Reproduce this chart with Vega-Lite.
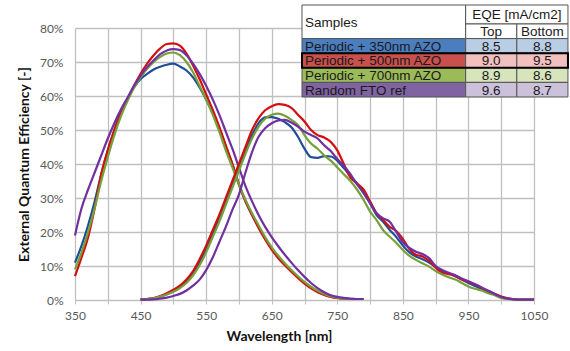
{
  "$schema": "https://vega.github.io/schema/vega-lite/v6.json",
  "width": 459,
  "height": 272,
  "autosize": {"type": "none"},
  "padding": {"left": 75, "top": 28, "right": 36, "bottom": 51},
  "background": "white",
  "config": {
    "view": {"stroke": null},
    "font": "Lato"
  },
  "datasets": {
    "curves": [
      {"cell":"Top","wavelength":350,"p350":11,"p500":7,"p700":9,"fto":19},
      {"cell":"Top","wavelength":360,"p350":16,"p500":12.5,"p700":14,"fto":27},
      {"cell":"Top","wavelength":370,"p350":22,"p500":18.5,"p700":20,"fto":32.5},
      {"cell":"Top","wavelength":380,"p350":29,"p500":27,"p700":27,"fto":37.5},
      {"cell":"Top","wavelength":390,"p350":37,"p500":37,"p700":35,"fto":42.5},
      {"cell":"Top","wavelength":400,"p350":44,"p500":44,"p700":42,"fto":47.5},
      {"cell":"Top","wavelength":410,"p350":50,"p500":50,"p700":48.5,"fto":52},
      {"cell":"Top","wavelength":420,"p350":55,"p500":55,"p700":54,"fto":56},
      {"cell":"Top","wavelength":430,"p350":59,"p500":59,"p700":58.5,"fto":59.5},
      {"cell":"Top","wavelength":440,"p350":62.5,"p500":63,"p700":62.5,"fto":63},
      {"cell":"Top","wavelength":450,"p350":65,"p500":66.5,"p700":65.5,"fto":66},
      {"cell":"Top","wavelength":460,"p350":66.5,"p500":69.5,"p700":68,"fto":68.5},
      {"cell":"Top","wavelength":470,"p350":67.8,"p500":72,"p700":70,"fto":70.5},
      {"cell":"Top","wavelength":480,"p350":68.6,"p500":74,"p700":71.5,"fto":72.3},
      {"cell":"Top","wavelength":490,"p350":69.2,"p500":75.3,"p700":72.5,"fto":73.4},
      {"cell":"Top","wavelength":500,"p350":69.5,"p500":75.5,"p700":72.8,"fto":73.8},
      {"cell":"Top","wavelength":510,"p350":68.7,"p500":74.8,"p700":72,"fto":73.5},
      {"cell":"Top","wavelength":520,"p350":67.5,"p500":72.5,"p700":70,"fto":72},
      {"cell":"Top","wavelength":530,"p350":65.5,"p500":69,"p700":67,"fto":69.5},
      {"cell":"Top","wavelength":540,"p350":62.5,"p500":65,"p700":63,"fto":66.5},
      {"cell":"Top","wavelength":550,"p350":59,"p500":60.5,"p700":59,"fto":63},
      {"cell":"Top","wavelength":560,"p350":55,"p500":56,"p700":54.5,"fto":59},
      {"cell":"Top","wavelength":570,"p350":50.5,"p500":51,"p700":49.5,"fto":54.5},
      {"cell":"Top","wavelength":580,"p350":45,"p500":45.5,"p700":44,"fto":49.5},
      {"cell":"Top","wavelength":590,"p350":40,"p500":40,"p700":39,"fto":44.5},
      {"cell":"Top","wavelength":600,"p350":34,"p500":34,"p700":34,"fto":39},
      {"cell":"Top","wavelength":610,"p350":29,"p500":29,"p700":29.5,"fto":33.5},
      {"cell":"Top","wavelength":620,"p350":25,"p500":25,"p700":25.5,"fto":29},
      {"cell":"Top","wavelength":630,"p350":21.5,"p500":21.2,"p700":22,"fto":25},
      {"cell":"Top","wavelength":640,"p350":18,"p500":17.8,"p700":18.5,"fto":21.5},
      {"cell":"Top","wavelength":650,"p350":15,"p500":14.8,"p700":15.5,"fto":18.5},
      {"cell":"Top","wavelength":660,"p350":12.5,"p500":12.3,"p700":13,"fto":15.8},
      {"cell":"Top","wavelength":670,"p350":10.5,"p500":10.2,"p700":10.8,"fto":13.3},
      {"cell":"Top","wavelength":680,"p350":8.5,"p500":8.3,"p700":8.8,"fto":11},
      {"cell":"Top","wavelength":690,"p350":6.7,"p500":6.5,"p700":7,"fto":8.8},
      {"cell":"Top","wavelength":700,"p350":5,"p500":4.8,"p700":5.3,"fto":6.8},
      {"cell":"Top","wavelength":710,"p350":3.6,"p500":3.4,"p700":3.9,"fto":5},
      {"cell":"Top","wavelength":720,"p350":2.5,"p500":2.3,"p700":2.7,"fto":3.5},
      {"cell":"Top","wavelength":730,"p350":1.6,"p500":1.5,"p700":1.8,"fto":2.3},
      {"cell":"Top","wavelength":740,"p350":1,"p500":0.9,"p700":1.1,"fto":1.4},
      {"cell":"Top","wavelength":750,"p350":0.6,"p500":0.6,"p700":0.7,"fto":0.9},
      {"cell":"Top","wavelength":760,"p350":0.4,"p500":0.4,"p700":0.4,"fto":0.6},
      {"cell":"Top","wavelength":770,"p350":0.3,"p500":0.3,"p700":0.3,"fto":0.4},
      {"cell":"Top","wavelength":780,"p350":0.3,"p500":0.3,"p700":0.3,"fto":0.3},
      {"cell":"Top","wavelength":790,"p350":0.3,"p500":0.3,"p700":0.3,"fto":0.3},
      {"cell":"Bottom","wavelength":450,"p350":0.2,"p500":0.2,"p700":0.2,"fto":0.1},
      {"cell":"Bottom","wavelength":460,"p350":0.3,"p500":0.3,"p700":0.3,"fto":0.1},
      {"cell":"Bottom","wavelength":470,"p350":0.5,"p500":0.6,"p700":0.5,"fto":0.2},
      {"cell":"Bottom","wavelength":480,"p350":1,"p500":1.2,"p700":1,"fto":0.4},
      {"cell":"Bottom","wavelength":490,"p350":1.7,"p500":2,"p700":1.6,"fto":0.7},
      {"cell":"Bottom","wavelength":500,"p350":2.6,"p500":3,"p700":2.4,"fto":1.2},
      {"cell":"Bottom","wavelength":510,"p350":3.8,"p500":4.2,"p700":3.5,"fto":1.8},
      {"cell":"Bottom","wavelength":520,"p350":5.5,"p500":6,"p700":5,"fto":2.8},
      {"cell":"Bottom","wavelength":530,"p350":7.8,"p500":8.5,"p700":7.2,"fto":4.2},
      {"cell":"Bottom","wavelength":540,"p350":11,"p500":12,"p700":10.2,"fto":6},
      {"cell":"Bottom","wavelength":550,"p350":15,"p500":16,"p700":14,"fto":8.8},
      {"cell":"Bottom","wavelength":560,"p350":19.5,"p500":20.5,"p700":18.5,"fto":12.5},
      {"cell":"Bottom","wavelength":570,"p350":24,"p500":25,"p700":23,"fto":17},
      {"cell":"Bottom","wavelength":580,"p350":29,"p500":30,"p700":28,"fto":21.5},
      {"cell":"Bottom","wavelength":590,"p350":34,"p500":35,"p700":33,"fto":26.5},
      {"cell":"Bottom","wavelength":600,"p350":39,"p500":40,"p700":38,"fto":31},
      {"cell":"Bottom","wavelength":610,"p350":44,"p500":45,"p700":43,"fto":37.5},
      {"cell":"Bottom","wavelength":620,"p350":48.5,"p500":50,"p700":47.5,"fto":43.5},
      {"cell":"Bottom","wavelength":630,"p350":52,"p500":53.5,"p700":51,"fto":48},
      {"cell":"Bottom","wavelength":640,"p350":53.7,"p500":55.8,"p700":53.3,"fto":50.5},
      {"cell":"Bottom","wavelength":650,"p350":53.8,"p500":57,"p700":54.5,"fto":52},
      {"cell":"Bottom","wavelength":660,"p350":53.3,"p500":57.6,"p700":54.8,"fto":52.8},
      {"cell":"Bottom","wavelength":670,"p350":52.3,"p500":57.4,"p700":54.2,"fto":53},
      {"cell":"Bottom","wavelength":680,"p350":50.8,"p500":56.5,"p700":53,"fto":52.2},
      {"cell":"Bottom","wavelength":690,"p350":48,"p500":54.5,"p700":51.5,"fto":51},
      {"cell":"Bottom","wavelength":700,"p350":44.5,"p500":52.5,"p700":48.5,"fto":49.5},
      {"cell":"Bottom","wavelength":710,"p350":42,"p500":50,"p700":46,"fto":48.5},
      {"cell":"Bottom","wavelength":720,"p350":41.8,"p500":48.5,"p700":44.5,"fto":47.5},
      {"cell":"Bottom","wavelength":730,"p350":42.3,"p500":47.8,"p700":42.5,"fto":45.5},
      {"cell":"Bottom","wavelength":740,"p350":42.2,"p500":46.5,"p700":41,"fto":43.8},
      {"cell":"Bottom","wavelength":750,"p350":41,"p500":44,"p700":39,"fto":41.5},
      {"cell":"Bottom","wavelength":760,"p350":38.8,"p500":40,"p700":37,"fto":39.5},
      {"cell":"Bottom","wavelength":770,"p350":36.5,"p500":36,"p700":35,"fto":37},
      {"cell":"Bottom","wavelength":780,"p350":34.3,"p500":34.3,"p700":32.5,"fto":34},
      {"cell":"Bottom","wavelength":790,"p350":31.5,"p500":32.5,"p700":29.5,"fto":31.5},
      {"cell":"Bottom","wavelength":800,"p350":28.5,"p500":29,"p700":26,"fto":28.5},
      {"cell":"Bottom","wavelength":810,"p350":25,"p500":25.5,"p700":23.5,"fto":25.5},
      {"cell":"Bottom","wavelength":820,"p350":23,"p500":23.5,"p700":20.5,"fto":24},
      {"cell":"Bottom","wavelength":830,"p350":20.6,"p500":21.5,"p700":18.6,"fto":23},
      {"cell":"Bottom","wavelength":840,"p350":18.5,"p500":20.3,"p700":16.8,"fto":20},
      {"cell":"Bottom","wavelength":850,"p350":16,"p500":18,"p700":14.7,"fto":17},
      {"cell":"Bottom","wavelength":860,"p350":14,"p500":15,"p700":13,"fto":15.3},
      {"cell":"Bottom","wavelength":870,"p350":12.8,"p500":13.3,"p700":11.8,"fto":14.2},
      {"cell":"Bottom","wavelength":880,"p350":12,"p500":12.8,"p700":10.8,"fto":13.5},
      {"cell":"Bottom","wavelength":890,"p350":11,"p500":11.5,"p700":9.8,"fto":12.3},
      {"cell":"Bottom","wavelength":900,"p350":9.8,"p500":9.5,"p700":8.5,"fto":10},
      {"cell":"Bottom","wavelength":910,"p350":8.5,"p500":8,"p700":7.5,"fto":8.8},
      {"cell":"Bottom","wavelength":920,"p350":7.8,"p500":7.6,"p700":6.7,"fto":8},
      {"cell":"Bottom","wavelength":930,"p350":7,"p500":7.1,"p700":6,"fto":7.3},
      {"cell":"Bottom","wavelength":940,"p350":6,"p500":6,"p700":5,"fto":6.3},
      {"cell":"Bottom","wavelength":950,"p350":5,"p500":5.3,"p700":4,"fto":5.5},
      {"cell":"Bottom","wavelength":960,"p350":4.1,"p500":4.6,"p700":3.3,"fto":4.6},
      {"cell":"Bottom","wavelength":970,"p350":3.3,"p500":3.6,"p700":2.8,"fto":3.7},
      {"cell":"Bottom","wavelength":980,"p350":2.5,"p500":2.7,"p700":2,"fto":2.7},
      {"cell":"Bottom","wavelength":990,"p350":1.6,"p500":1.8,"p700":1.4,"fto":1.8},
      {"cell":"Bottom","wavelength":1000,"p350":0.9,"p500":1,"p700":0.6,"fto":0.9},
      {"cell":"Bottom","wavelength":1010,"p350":0.4,"p500":0.5,"p700":0.3,"fto":0.4},
      {"cell":"Bottom","wavelength":1020,"p350":0.2,"p500":0.2,"p700":0.1,"fto":0.2},
      {"cell":"Bottom","wavelength":1030,"p350":0.1,"p500":0.1,"p700":0.1,"fto":0.1},
      {"cell":"Bottom","wavelength":1040,"p350":0.1,"p500":0.1,"p700":0.1,"fto":0.1},
      {"cell":"Bottom","wavelength":1050,"p350":0.1,"p500":0.1,"p700":0.1,"fto":0.1}
    ],
    "table": [
      {"part":"head","key":"head","label":"Samples","c0":0,"c1":3.2,"r0":0,"r1":2.3},
      {"part":"headc","key":"head","label":"EQE [mA/cm2]","c0":3.2,"c1":5.2,"r0":0,"r1":1.3},
      {"part":"headc","key":"head","label":"Top","c0":3.2,"c1":4.2,"r0":1.3,"r1":2.3},
      {"part":"headc","key":"head","label":"Bottom","c0":4.2,"c1":5.2,"r0":1.3,"r1":2.3},
      {"part":"name","key":"p350","label":"Periodic + 350nm AZO","c0":0,"c1":3.2,"r0":2.3,"r1":3.3},
      {"part":"value","key":"p350v","label":"8.5","c0":3.2,"c1":4.2,"r0":2.3,"r1":3.3},
      {"part":"value","key":"p350v","label":"8.8","c0":4.2,"c1":5.2,"r0":2.3,"r1":3.3},
      {"part":"name","key":"p500","label":"Periodic + 500nm AZO","c0":0,"c1":3.2,"r0":3.3,"r1":4.3},
      {"part":"value","key":"p500v","label":"9.0","c0":3.2,"c1":4.2,"r0":3.3,"r1":4.3},
      {"part":"value","key":"p500v","label":"9.5","c0":4.2,"c1":5.2,"r0":3.3,"r1":4.3},
      {"part":"name","key":"p700","label":"Periodic + 700nm AZO","c0":0,"c1":3.2,"r0":4.3,"r1":5.3},
      {"part":"value","key":"p700v","label":"8.9","c0":3.2,"c1":4.2,"r0":4.3,"r1":5.3},
      {"part":"value","key":"p700v","label":"8.6","c0":4.2,"c1":5.2,"r0":4.3,"r1":5.3},
      {"part":"name","key":"fto","label":"Random FTO ref","c0":0,"c1":3.2,"r0":5.3,"r1":6.3},
      {"part":"value","key":"ftov","label":"9.6","c0":3.2,"c1":4.2,"r0":5.3,"r1":6.3},
      {"part":"value","key":"ftov","label":"8.7","c0":4.2,"c1":5.2,"r0":5.3,"r1":6.3},
      {"part":"frame","key":"frame","label":"","c0":0,"c1":5.2,"r0":3.3,"r1":4.3}
    ]
  },
  "layer": [
    {
      "data": {"name": "curves"},
      "transform": [{"fold": ["p350", "p500", "p700", "fto"], "as": ["sample", "eqe"]}],
      "mark": {"type": "line", "strokeWidth": 2.2, "interpolate": "monotone"},
      "encoding": {
        "x": {
          "field": "wavelength", "type": "quantitative",
          "scale": {"domain": [350, 1050], "nice": false},
          "axis": {
            "values": [350,400,450,500,550,600,650,700,750,800,850,900,950,1000,1050],
            "format": "d",
            "labelExpr": "datum.value % 100 == 50 ? datum.label : ''",
            "labelFlush": false, "labelOverlap": false,
            "grid": true, "gridColor": "#c0c0c0", "gridWidth": 1.3,
            "domain": false, "ticks": true, "tickSize": 4, "tickColor": "#c0c0c0",
            "labelFont": "Lato", "labelFontSize": 12, "labelColor": "#595959", "labelPadding": 6,
            "title": "Wavelength [nm]", "titleFont": "Lato", "titleFontSize": 14, "titleFontWeight": "bold",
            "titleColor": "#111111", "titlePadding": 8, "titleX": 204
          }
        },
        "y": {
          "field": "eqe", "type": "quantitative",
          "scale": {"domain": [0, 80], "nice": false},
          "axis": {
            "values": [0,10,20,30,40,50,60,70,80],
            "labelExpr": "datum.value + '%'",
            "grid": true, "gridColor": "#c0c0c0", "gridWidth": 1.3,
            "domain": false, "ticks": false,
            "labelFont": "Lato", "labelFontSize": 12, "labelColor": "#595959", "labelPadding": 12,
            "title": "External Quantum Efficiency [-]", "titleFont": "Lato", "titleFontSize": 14,
            "titleFontWeight": "bold", "titleColor": "#111111", "titlePadding": 8
          }
        },
        "color": {
          "field": "sample", "type": "nominal",
          "scale": {"domain": ["p350", "p500", "p700", "fto"], "range": ["#1f4e96", "#d40f0f", "#77a03a", "#7030a0"]},
          "legend": null
        },
        "detail": {"field": "cell"}
      }
    },
    {
      "data": {"name": "table"},
      "layer": [
        {
          "transform": [{"filter": "datum.part !== 'frame'"}],
          "mark": {"type": "rect", "stroke": "#555555", "strokeWidth": 1},
          "encoding": {
            "x": {"field": "c0", "type": "quantitative", "scale": {"domain": [-4.438, 4.536], "nice": false, "zero": false}, "axis": null},
            "x2": {"field": "c1"},
            "y": {"field": "r0", "type": "quantitative", "scale": {"domain": [1.575, 20.205], "nice": false, "zero": false, "reverse": true}, "axis": null},
            "y2": {"field": "r1"},
            "fill": {
              "field": "key", "type": "nominal",
              "scale": {
                "domain": ["head", "p350", "p350v", "p500", "p500v", "p700", "p700v", "fto", "ftov"],
                "range": ["#ffffff", "#4a7ebf", "#b9cde5", "#c9504d", "#f2c0be", "#9bbb59", "#d8e4bc", "#8064a2", "#ccc1da"]
              },
              "legend": null
            }
          }
        },
        {
          "transform": [{"filter": "datum.part === 'frame'"}],
          "mark": {"type": "rect", "stroke": "#000000", "strokeWidth": 2, "fillOpacity": 0},
          "encoding": {
            "x": {"field": "c0", "type": "quantitative", "scale": {"domain": [-4.438, 4.536], "nice": false, "zero": false}, "axis": null},
            "x2": {"field": "c1"},
            "y": {"field": "r0", "type": "quantitative", "scale": {"domain": [1.575, 20.205], "nice": false, "zero": false, "reverse": true}, "axis": null},
            "y2": {"field": "r1"}
          }
        },
        {
          "transform": [
            {"filter": "datum.part === 'headc' || datum.part === 'value'"},
            {"calculate": "(datum.c0 + datum.c1) / 2", "as": "xm"},
            {"calculate": "(datum.r0 + datum.r1) / 2", "as": "ym"}
          ],
          "mark": {"type": "text", "align": "center", "baseline": "middle", "font": "Liberation Sans", "fontSize": 13.5, "color": "#1a1a1a", "dy": 1},
          "encoding": {
            "x": {"field": "xm", "type": "quantitative", "scale": {"domain": [-4.438, 4.536], "nice": false, "zero": false}, "axis": null},
            "y": {"field": "ym", "type": "quantitative", "scale": {"domain": [1.575, 20.205], "nice": false, "zero": false, "reverse": true}, "axis": null},
            "text": {"field": "label"},
            "fontWeight": {"condition": {"test": "datum.key === 'p500v'", "value": "bold"}, "value": "normal"}
          }
        },
        {
          "transform": [
            {"filter": "datum.part === 'head' || datum.part === 'name'"},
            {"calculate": "(datum.r0 + datum.r1) / 2", "as": "ym"}
          ],
          "mark": {"type": "text", "align": "left", "baseline": "middle", "font": "Liberation Sans", "fontSize": 13.5, "color": "#1a1a1a", "dx": 3, "dy": 1},
          "encoding": {
            "x": {"field": "c0", "type": "quantitative", "scale": {"domain": [-4.438, 4.536], "nice": false, "zero": false}, "axis": null},
            "y": {"field": "ym", "type": "quantitative", "scale": {"domain": [1.575, 20.205], "nice": false, "zero": false, "reverse": true}, "axis": null},
            "text": {"field": "label"}
          }
        }
      ]
    }
  ],
  "resolve": {"scale": {"x": "independent", "y": "independent"}}
}
